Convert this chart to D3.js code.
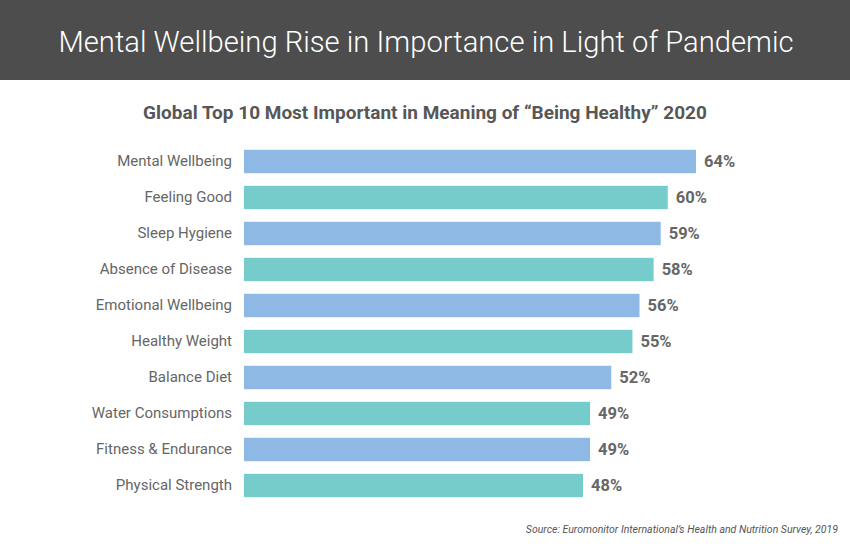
<!DOCTYPE html>
<html>
<head>
<meta charset="utf-8">
<script src="https://cdn.jsdelivr.net/npm/d3@7"></script>
<style>
  html, body { margin: 0; padding: 0; background: #fff; }
  svg { display: block; }
</style>
</head>
<body>
<svg id="chart" width="850" height="550"></svg>
<script>
const categories = ["Mental Wellbeing", "Feeling Good", "Sleep Hygiene", "Absence of Disease", "Emotional Wellbeing", "Healthy Weight", "Balance Diet", "Water Consumptions", "Fitness & Endurance", "Physical Strength"];
const values = [64, 60, 59, 58, 56, 55, 52, 49, 49, 48];
const barColors = ["#8db9e4", "#76cbcb"];
const titleText = "Mental Wellbeing Rise in Importance in Light of Pandemic";
const subtitleText = "Global Top 10 Most Important in Meaning of \u201CBeing Healthy\u201D 2020";
const sourceText = "Source: Euromonitor International\u2019s Health and Nutrition Survey, 2019";

const data = categories.map((c, i) => ({ category: c, value: values[i] }));

const svg = d3.select("#chart");
const W = 850, H = 550;

// header bar
svg.append("rect").attr("x", 0).attr("y", 0).attr("width", W).attr("height", 80).attr("fill", "#4d4d4d");
svg.append("text")
  .attr("x", 426).attr("y", 52)
  .attr("text-anchor", "middle")
  .attr("font-family", "Roboto")
  .attr("font-weight", 300)
  .attr("font-size", 29.2)
  .attr("fill", "#ffffff")
  .text(titleText);

svg.append("text")
  .attr("x", 425).attr("y", 119)
  .attr("text-anchor", "middle")
  .attr("font-family", "Roboto")
  .attr("font-weight", 700)
  .attr("font-size", 19)
  .attr("fill", "#575757")
  .text(subtitleText);

const x = d3.scaleLinear().domain([0, 64]).range([244, 696]);
const y = d3.scaleBand().domain(categories).range([143.5, 503.5]).paddingInner(0.35).paddingOuter(0.175);

const g = svg.append("g");

g.selectAll("rect.bar").data(data).enter().append("rect")
  .attr("class", "bar")
  .attr("x", x(0))
  .attr("y", d => y(d.category))
  .attr("width", d => x(d.value) - x(0))
  .attr("height", y.bandwidth())
  .attr("fill", (d, i) => barColors[i % 2]);

// category axis
const yAxis = d3.axisLeft(y).tickSize(0).tickPadding(12);
const ax = svg.append("g").attr("transform", `translate(${x(0)},0)`).call(yAxis);
ax.select(".domain").remove();
ax.selectAll("text")
  .attr("font-family", "Roboto")
  .attr("font-size", 15)
  .attr("dy", "0.33em")
  .attr("fill", "#666666");

// value labels
g.selectAll("text.val").data(data).enter().append("text")
  .attr("class", "val")
  .attr("x", d => x(d.value) + 8)
  .attr("y", d => y(d.category) + y.bandwidth() / 2)
  .attr("dy", "0.36em")
  .attr("font-family", "Roboto")
  .attr("font-weight", 700)
  .attr("font-size", 16.5)
  .attr("fill", "#666666")
  .text(d => d.value + "%");

svg.append("text")
  .attr("x", 838).attr("y", 533)
  .attr("text-anchor", "end")
  .attr("font-family", "Roboto")
  .attr("font-style", "italic")
  .attr("font-size", 10.5)
  .attr("fill", "#555555")
  .text(sourceText);
</script>
</body>
</html>
